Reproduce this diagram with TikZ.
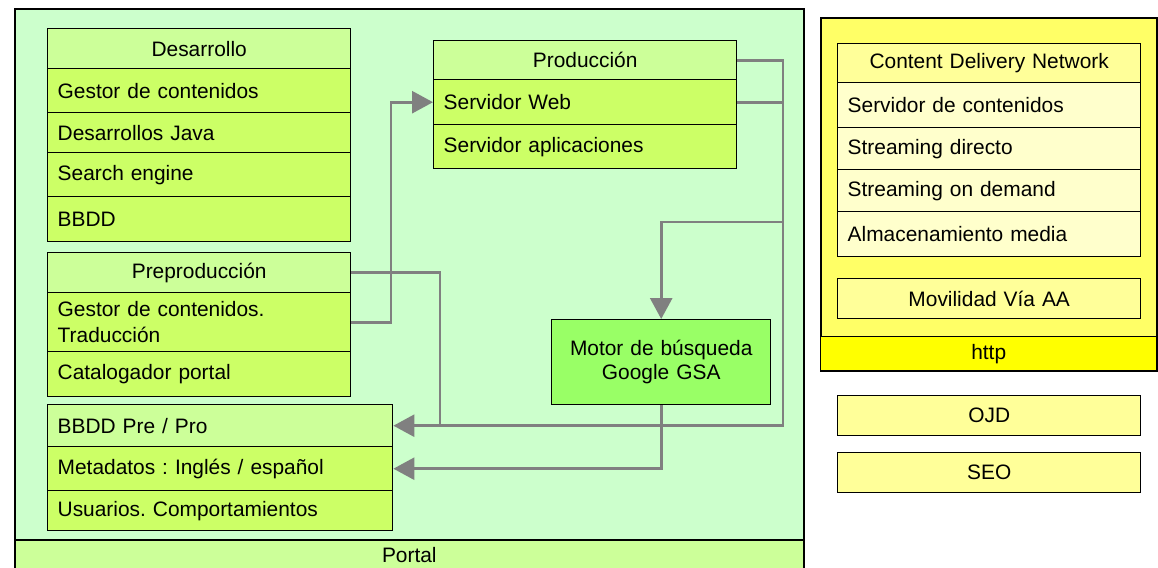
\documentclass[tikz,border=0pt]{standalone}
\usepackage{fontspec}
\setmainfont{Liberation Sans}
\usetikzlibrary{arrows.meta}
\frenchspacing
\definecolor{panel}{HTML}{CCFFCC}
\definecolor{hdrg}{HTML}{CCFF99}
\definecolor{itemg}{HTML}{CCFF66}
\definecolor{motorg}{HTML}{99FF66}
\definecolor{yelouter}{HTML}{FFFF66}
\definecolor{yelhttp}{HTML}{FFFF00}
\definecolor{yelhdr}{HTML}{FFFF99}
\definecolor{yelitem}{HTML}{FFFFCC}
\definecolor{conncol}{HTML}{808080}
\newcommand\Hd[8]{\node[cell, fill=#6, minimum width=#4pt, minimum height=#5pt, text width=#4pt, align=center] (#1) at (#2,#3) {#8};}
\newcommand\It[8]{\node[cell, fill=#6, minimum width=#4pt, minimum height=#5pt, text width=#7pt, inner xsep=10pt, align=left] (#1) at (#2,#3) {#8};}
\begin{document}
\begin{tikzpicture}[x=1pt,y=-1pt,
  cell/.style={draw=black, line width=1.4pt, anchor=north west, inner ysep=0pt, inner xsep=0pt,
    font=\fontsize{20.9}{25.5}\selectfont\frenchspacing},
  conn/.style={draw=conncol, line width=2.8pt, -{Triangle[length=21pt,width=22pt]}},
  connplain/.style={draw=conncol, line width=2.8pt}]
\useasboundingbox (0,0) rectangle (1158,567);
% main panel
\node[draw=black, line width=1.6pt, fill=panel, anchor=north west, minimum width=789pt, minimum height=531pt, inner sep=0pt] (panel) at (14,8) {};
\node[cell, line width=1.6pt, fill=hdrg, minimum width=789pt, minimum height=30pt, text width=789pt, align=center] (portal) at (14,539) {Portal};
% Desarrollo
\Hd{d0}{47}{28}{303}{40}{hdrg}{}{Desarrollo}
\It{d1}{47}{68}{303}{44}{itemg}{283}{Gestor de contenidos}
\It{d2}{47}{112}{303}{40}{itemg}{283}{Desarrollos Java}
\It{d3}{47}{152}{303}{44}{itemg}{283}{Search engine}
\It{d4}{47}{196}{303}{45}{itemg}{283}{BBDD}
% Preproduccion
\Hd{p0}{47}{252}{303}{40}{hdrg}{}{Preproducción}
\It{p1}{47}{292}{303}{59}{itemg}{283}{Gestor de contenidos.\\Traducción}
\It{p2}{47}{351}{303}{45}{itemg}{283}{Catalogador portal}
% BBDD Pre/Pro
\It{b0}{47}{404}{345}{42}{hdrg}{325}{BBDD Pre / Pro}
\It{b1}{47}{446}{345}{44}{itemg}{325}{Metadatos : Inglés / español}
\It{b2}{47}{490}{345}{40}{itemg}{325}{Usuarios. Comportamientos}
% Produccion
\Hd{w0}{433}{40}{303}{39}{hdrg}{}{Producción}
\It{w1}{433}{79}{303}{45}{itemg}{283}{Servidor Web}
\It{w2}{433}{124}{303}{44}{itemg}{283}{Servidor aplicaciones}
% Motor
\node[cell, fill=motorg, minimum width=219pt, minimum height=85pt, text width=219pt, align=center,
  font=\fontsize{20.9}{24}\selectfont] (m) at (551,319) {Motor de búsqueda\\Google GSA};
% right side
\node[draw=black, line width=1.6pt, fill=yelouter, anchor=north west, minimum width=336pt, minimum height=353pt, inner sep=0pt] (outer) at (820,17) {};
\Hd{http}{820}{336}{336}{34}{yelhttp}{}{http}
\Hd{c0}{837}{43}{303}{39}{yelhdr}{}{Content Delivery Network}
\It{c1}{837}{82}{303}{45}{yelitem}{283}{Servidor de contenidos}
\It{c2}{837}{127}{303}{42}{yelitem}{283}{Streaming directo}
\It{c3}{837}{169}{303}{42}{yelitem}{283}{Streaming on demand}
\It{c4}{837}{211}{303}{45}{yelitem}{283}{Almacenamiento media}
\Hd{mov}{837}{278}{303}{40}{yelhdr}{}{Movilidad Vía AA}
\Hd{ojd}{837}{395}{303}{40}{yelhdr}{}{OJD}
\Hd{seo}{837}{452}{303}{40}{yelhdr}{}{SEO}
% connectors
\coordinate (k1) at (391,0);
\coordinate (k2) at (440,0);
\coordinate (k3) at (783,0);
\coordinate (k4) at (0,222);
\draw[conn] (p1.east) -- (p1.east -| k1) |- (w1.west);
\draw[connplain] (w0.east) -- (w0.east -| k3) |- (b0.east -| k2);
\draw[conn] (p0.east) -- (p0.east -| k2) |- (b0.east);
\draw[conn] (w1.east) -- (w1.east -| k3) |- (m.north |- k4) -- (m.north);
\draw[conn] (m.south) |- (b1.east);
\end{tikzpicture}
\end{document}
